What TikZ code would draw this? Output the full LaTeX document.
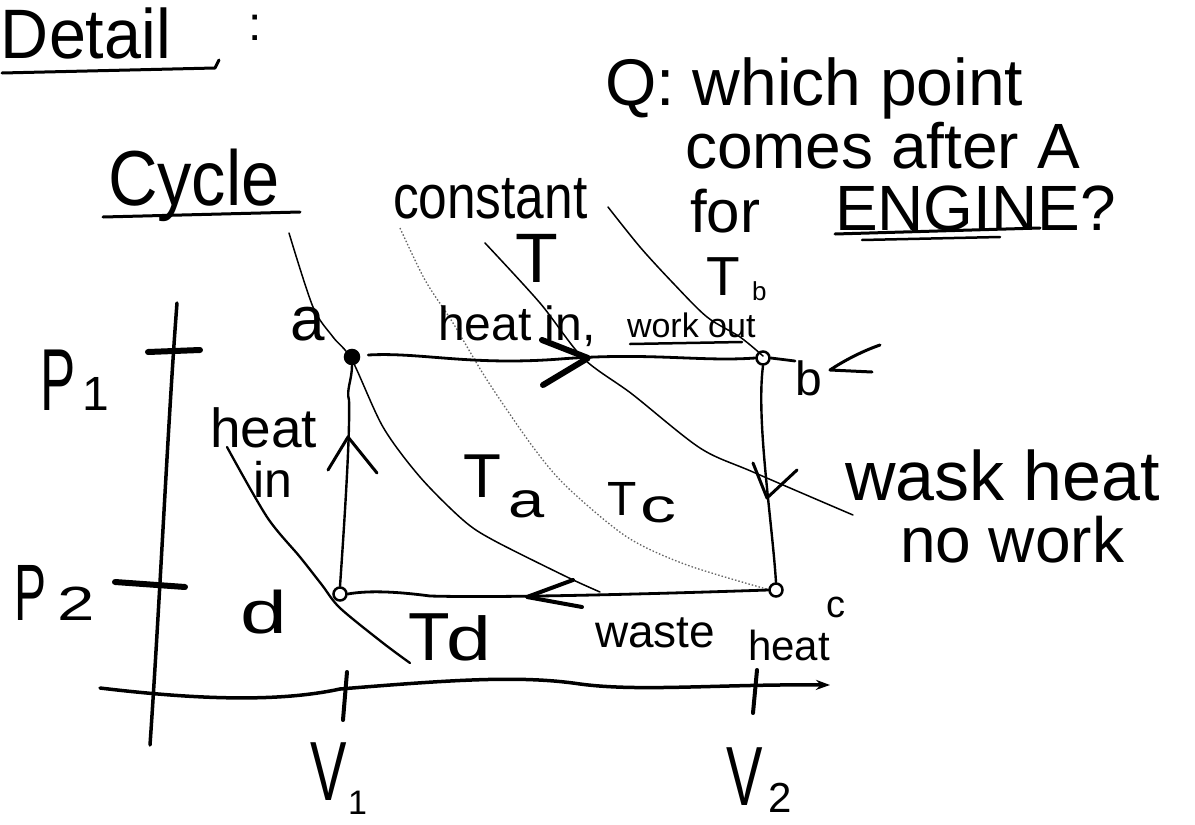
\documentclass[tikz,border=0pt]{standalone}
\usepackage{fontspec}
\setmainfont{Liberation Sans}
\usepackage{graphicx}
\usetikzlibrary{arrows.meta}
\newcommand\fsz[1]{\fontsize{#1}{#1}\selectfont}
\newcommand\sx[2]{\scalebox{#1}[1]{#2}}
\tikzset{
  lab/.style={inner sep=0pt, outer sep=0pt, anchor=base west},
  ink/.style={line width=2.8pt, line cap=round, line join=round},
  iso/.style={line width=1.5pt, line cap=round},
  faint/.style={line width=1.3pt, black!60, dash pattern=on 1.5pt off 2pt},
  chev/.style={line cap=round, line join=round},
  pt/.style={circle, draw, line width=2.5pt, minimum size=13pt, inner sep=0pt},
  axis/.style={line width=3.5pt, line cap=round},
  tick/.style={line width=6pt, line cap=round},
}
\begin{document}
\begin{tikzpicture}[x=1pt,y=-1pt]
\useasboundingbox (0,0) rectangle (1195,825);
\fill[white] (0,0) rectangle (1195,825);

% ---- headings
\node[lab] (detail) at (1,58) {\fsz{70}\sx{.95}{Detail}};
\node[lab] (colon) at (248,40) {\fsz{48}:};
\draw[line width=3pt, line cap=round, line join=round] (2,73) -- (215,68) -- (219,60);
\node[lab] (q1) at (605,105) {\fsz{66}Q: which point};
\node[lab] (q2) at (685,168) {\fsz{64}comes after A};
\node[lab] (q3) at (690,232) {\fsz{60}for};
\node[lab] (eng) at (835,230) {\fsz{64}ENGINE?};
\draw[line width=3pt, line cap=round] (835,234) -- (1040,228);
\draw[line width=2.5pt, line cap=round] (862,240) -- (1000,237);
\node[lab] (cycle) at (108,205) {\fsz{78}\sx{.88}{Cycle}};
\draw[line width=3pt, line cap=round] (103,217) -- (300,212);
\node[lab] (const) at (393,218) {\fsz{62}\sx{.83}{constant}};
\node[lab] (tconst) at (515,282) {\fsz{70}T};
\node[lab] (tb) at (706,295) {\fsz{55}T};
\node[lab] (tbsub) at (752,300) {\fsz{26}b};

% ---- axes
\coordinate (ytop) at (177,303);
\coordinate (ybot) at (150,745);
\draw[axis] (ytop) .. controls (168,420) and (160,600) .. (ybot);
\coordinate (xl) at (100,688);
\coordinate (xm) at (340,689);
\coordinate (xr) at (830,685);
\draw[axis] (xl) .. controls (200,700) and (280,702) .. (xm);
\draw[axis, -{Stealth[length=14pt,width=10pt]}] (xm) .. controls (450,680) and (520,675) .. (580,684) .. controls (640,692) and (720,684) .. (xr);
\draw[tick] (148,352) -- (200,350);
\draw[tick] (115,582) -- (185,587);
\draw[line width=4pt, line cap=round] (347,672) -- (343,720);
\draw[line width=4pt, line cap=round] (757,670) -- (753,713);
\node[lab] (p1) at (40,410) {\fsz{88}\sx{.6}{P}};
\node[lab] (p1s) at (82,410) {\fsz{48}1};
\node[lab] (p2) at (15,620) {\fsz{80}\sx{.6}{P}};
\node[lab] (p2s) at (57,620) {\fsz{48}\sx{1.4}{2}};
\node[lab] (v1) at (310,800) {\fsz{84}\sx{.65}{V}};
\node[lab] (v1s) at (348,814) {\fsz{34}1};
\node[lab] (v2) at (726,805) {\fsz{84}\sx{.65}{V}};
\node[lab] (v2s) at (768,812) {\fsz{42}2};

% ---- isotherms
\draw[iso] plot[smooth] coordinates {(289,233) (313,307) (333,337) (352,360) (383,427) (420,477) (463,520) (493,540) (567,577) (600,592)};
\draw[iso] plot[smooth] coordinates {(485,243) (540,303) (583,358) (632,394) (700,448) (753,472) (853,515)};
\draw[iso] plot[smooth] coordinates {(608,207) (640,247) (673,283) (707,317) (740,337) (763,356)};
\draw[faint] plot[smooth] coordinates {(400,228) (425,280) (453,323) (487,380) (533,447) (567,487) (627,537) (687,565) (770,590)};
\draw[line width=2.3pt, line cap=round] plot[smooth] coordinates {(227,447) (267,517) (300,557) (322,585) (340,608) (383,643) (410,663)};

% ---- state points
\node[pt, fill=black, minimum size=14pt] (pa) at (352,357) {};
\node[pt] (pb) at (763,358) {};
\node[pt] (pc) at (776,590) {};
\node[pt] (pd) at (340,594) {};

% ---- cycle
\draw[ink] (pa.east) ++(8,-2) .. controls (420,352) and (470,366) .. (560,359) .. controls (650,352) and (700,362) .. (pb.west);
\draw[ink] (pb.east) -- (795,361);
\draw[ink, line width=2.4pt] (pb.south) .. controls (756,420) and (772,520) .. (pc.north);
\draw[ink] (pc.west) .. controls (650,594) and (500,598) .. (430,596) .. controls (400,592) and (370,590) .. (pd.east);
\draw[ink, line width=2.4pt] (pd.north) .. controls (346,500) and (350,430) .. (349,400) .. controls (346,390) and (352,380) .. (pa.south);

% ---- direction chevrons
\draw[chev, line width=6pt] (542,340) -- (588,358) -- (543,385);
\draw[chev, line width=3pt] (753,463) -- (767,498) -- (797,470);
\draw[chev, line width=4pt] (573,580) -- (527,597) -- (582,607);
\draw[chev, line width=3pt] (328,470) -- (348,437) -- (377,473);

% ---- labels
\node[lab] (la) at (290,340) {\fsz{62}a};
\node[lab] (lb) at (795,395) {\fsz{48}b};
\draw[line width=3pt, line cap=round, line join=round] (880,345) .. controls (860,352) and (842,362) .. (830,370) -- (872,372);
\node[lab] (lc) at (826,617) {\fsz{38}c};
\node[lab] (ld) at (240,633) {\fsz{60}\sx{1.4}{d}};
\node[lab] (hin1) at (438,340) {\fsz{48}heat in,};
\node[lab] (wout) at (627,337) {\fsz{34}work out};
\draw[line width=2.5pt, line cap=round] (630,344) -- (742,342);
\node[lab] (hin2) at (210,447) {\fsz{55}heat};
\node[lab] (hin3) at (253,497) {\fsz{50}in};
\node[lab] (ta) at (463,497) {\fsz{62}T};
\node[lab] (tas) at (508,517) {\fsz{50}\sx{1.3}{a}};
\node[lab] (tc) at (607,515) {\fsz{48}T};
\node[lab] (tcs) at (640,522) {\fsz{48}\sx{1.5}{c}};
\node[lab] (td) at (408,660) {\fsz{68}T};
\node[lab] (tds) at (446,660) {\fsz{62}\sx{1.3}{d}};
\node[lab] (waste) at (595,647) {\fsz{46}waste};
\node[lab] (wheat) at (748,660) {\fsz{42}heat};
\node[lab] (wask) at (845,500) {\fsz{70}wask heat};
\node[lab] (nowork) at (900,562) {\fsz{64}no work};
\end{tikzpicture}
\end{document}
